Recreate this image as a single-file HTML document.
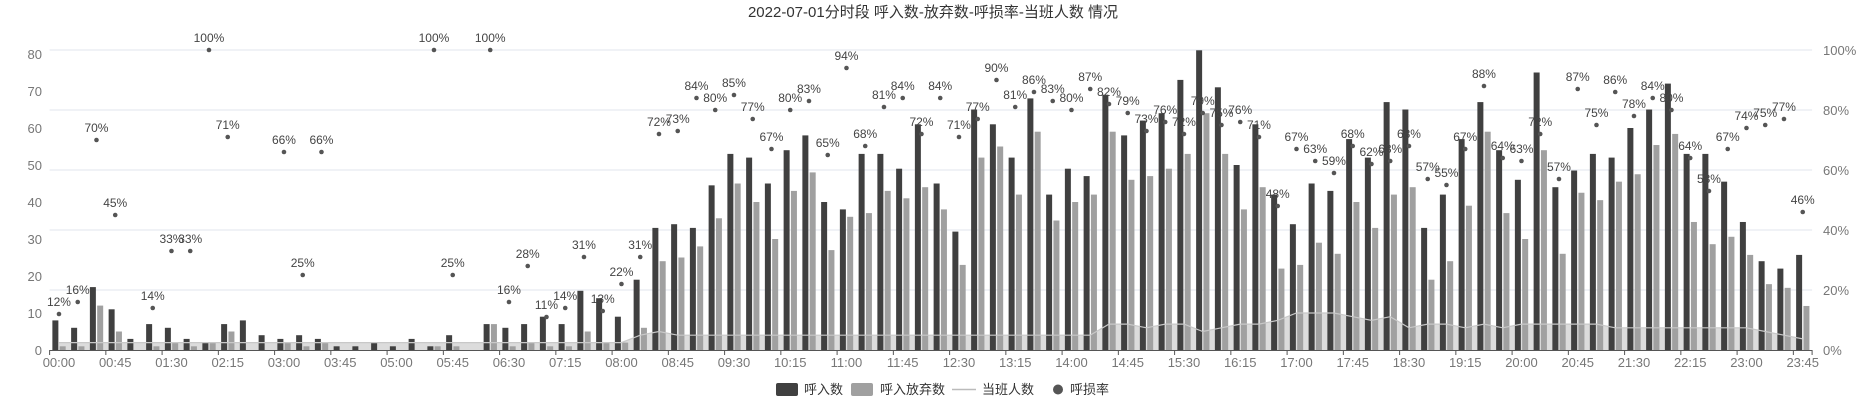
<!DOCTYPE html>
<html><head><meta charset="utf-8"><style>
body{margin:0;background:#fff;}
svg{display:block;font-family:"Liberation Sans","Noto Sans CJK SC",sans-serif;}
</style></head><body>
<svg id="chart" width="1864" height="400" viewBox="0 0 1864 400" xmlns="http://www.w3.org/2000/svg">
<text x="933" y="17" text-anchor="middle" font-size="15" fill="#333">2022-07-01分时段 呼入数-放弃数-呼损率-当班人数 情况</text>
<g id="grid"></g><g id="area"></g><g id="bars"></g><g id="dots"></g><g id="axes"></g>
<g>
<g><rect x="776" y="383" width="22" height="13" rx="2" fill="#404040"/><text x="804" y="394" font-size="13" fill="#333">呼入数</text></g>
<g><rect x="851" y="383" width="22" height="13" rx="2" fill="#a0a0a0"/><text x="880" y="394" font-size="13" fill="#333">呼入放弃数</text></g>
<g><line x1="952" y1="389.5" x2="976" y2="389.5" stroke="#bbb" stroke-width="1.5"/><text x="982" y="394" font-size="13" fill="#333">当班人数</text></g>
<g><circle cx="1058" cy="389.5" r="5" fill="#555"/><text x="1070" y="394" font-size="13" fill="#333">呼损率</text></g>
</g>
</svg>
<script>
const categories=["00:00","00:15","00:30","00:45","01:00","01:15","01:30","01:45","02:00","02:15","02:30","02:45","03:00","03:15","03:30","03:45","04:15","04:30","05:00","05:15","05:30","05:45","06:00","06:15","06:30","06:45","07:00","07:15","07:30","07:45","08:00","08:15","08:30","08:45","09:00","09:15","09:30","09:45","10:00","10:15","10:30","10:45","11:00","11:15","11:30","11:45","12:00","12:15","12:30","12:45","13:00","13:15","13:30","13:45","14:00","14:15","14:30","14:45","15:00","15:15","15:30","15:45","16:00","16:15","16:30","16:45","17:00","17:15","17:30","17:45","18:00","18:15","18:30","18:45","19:00","19:15","19:30","19:45","20:00","20:15","20:30","20:45","21:00","21:15","21:30","21:45","22:00","22:15","22:30","22:45","23:00","23:15","23:30","23:45"];
const calls=[8,6,17,11,3,7,6,3,2,7,8,4,3,4,3,1,1,2,1,3,1,4,0,7,6,7,9,7,16,14,9,19,33,34,33,44.5,53,52,45,54,58,40,38,53,53,49,61,45,32,65,61,52,68,42,49,47,69,58,62,64,73,81,71,50,61,42,34,45,43,57,52,67,65,33,42,57,67,54,46,75,44,48.5,53,52,60,65,72,53,53,45.5,34.6,24,22,25.7];
const abandoned=[1,1,12,5,0,1,2,1,2,5,0,0,2,1,2,0,0,0,0,0,1,1,0,7,1,2,1,1,5,2,2,6,24,25,28,35.6,45,40,30,43,48,27,36,37,43,41,44,38,23,52,55,42,59,35,40,42,59,46,47,49,53,64,53,38,44,22,23,29,26,40,33,42,44,19,24,39,59,37,30,54,26,42.5,40.5,45.5,47.5,55.4,58.4,34.6,28.6,30.6,25.7,17.8,16.8,11.9];
const lossRate=[12,16,70,45,null,14,33,33,100,71,null,null,66,25,66,null,null,null,null,null,100,25,null,100,16,28,11,14,31,13,22,31,72,73,84,80,85,77,67,80,83,65,94,68,81,84,72,84,71,77,90,81,86,83,80,87,82,79,73,76,72,79,75,76,71,48,67,63,59,68,62,63,68,57,55,67,88,64,63,72,57,87,75,86,78,84,80,64,53,67,74,75,77,46];
const staff=[2,2,2,2,2,2,2,2,2,2,2,2,2,2,2,2,2,2,2,2,2,2,2,2,2,2,2,2,2,2,2,4,5,4,4,4,4,4,4,4,4,4,4,4,4,4,4,4,4,4,4,4,4,4,4,4,7,7,6,7,7,5,6,7,7,8,10,10,10,9,8,9,6,7,7,6,7,6,7,7,7,7,7,6,6,6,6,6,6,6,6,5,4,3];
const leftTicks=[0,10,20,30,40,50,60,70,80];
const rightTicks=[0,20,40,60,80,100];

const NS="http://www.w3.org/2000/svg";
const X0=49.6,STEP=18.75,BASE=350;
const xC=i=>X0+(i+0.5)*STEP;
const yL=v=>BASE-v*3.7;
const yR=p=>BASE-p*3;
function mk(tag,attrs,parent,txt){const e=document.createElementNS(NS,tag);for(const k in attrs)e.setAttribute(k,attrs[k]);if(txt!==undefined)e.textContent=txt;parent.appendChild(e);return e;}
const grid=document.getElementById('grid'),areaG=document.getElementById('area'),bars=document.getElementById('bars'),dots=document.getElementById('dots'),axes=document.getElementById('axes');
const xEnd=X0+categories.length*STEP;
rightTicks.forEach(p=>{
  if(p>0){const g=mk('line',{x1:X0,x2:xEnd,y1:yR(p),y2:yR(p),stroke:'#e0e6ee','stroke-width':1},grid);
  
  }
  const t=mk('text',{x:1823,y:yR(p)+5,'font-size':13,fill:'#777'},axes,p+'%');
  
  
});
leftTicks.forEach(v=>{
  const t=mk('text',{x:42,y:yL(v)+5,'font-size':13,fill:'#777','text-anchor':'end'},axes,String(v));
  
  
});
let pts=staff.map((v,i)=>xC(i)+','+yL(v));
const ar=mk('polygon',{points:xC(0)+','+BASE+' '+pts.join(' ')+' '+xC(staff.length-1)+','+BASE,fill:'#dcdcdc'},areaG);


categories.forEach((c,i)=>{
  const cx=xC(i);
  const b1=mk('rect',{x:cx-6.6,y:yL(calls[i]),width:6,height:calls[i]*3.7,fill:'#404040'},bars);
  
  
  const b2=mk('rect',{x:cx+0.7,y:yL(abandoned[i]),width:6,height:abandoned[i]*3.7,fill:'#a0a0a0'},bars);
  
  
  if(lossRate[i]!==null){
    const d=mk('circle',{cx:cx,cy:yR(lossRate[i]),r:2.3,fill:'#555'},dots);
    
    
    const l=mk('text',{x:cx,y:yR(lossRate[i])-8,'font-size':12,fill:'#444','text-anchor':'middle'},dots,lossRate[i]+'%');
    
    
  }
  if(i%3===0){
    const t=mk('text',{x:cx,y:367,'font-size':13,fill:'#777','text-anchor':'middle'},axes,c);
    
    
    mk('line',{x1:X0+i*STEP,x2:X0+i*STEP,y1:BASE,y2:BASE+5,stroke:'#555'},axes);
  }
});
const sl=mk('polyline',{points:pts.join(' '),fill:'none',stroke:'#c8c8c8','stroke-width':1.2},dots);


mk('line',{x1:xEnd,x2:xEnd,y1:BASE,y2:BASE+5,stroke:'#555'},axes);
const ax=mk('line',{x1:X0,x2:xEnd,y1:BASE+0.5,y2:BASE+0.5,stroke:'#555','stroke-width':1},axes);


</script>
</body></html>
